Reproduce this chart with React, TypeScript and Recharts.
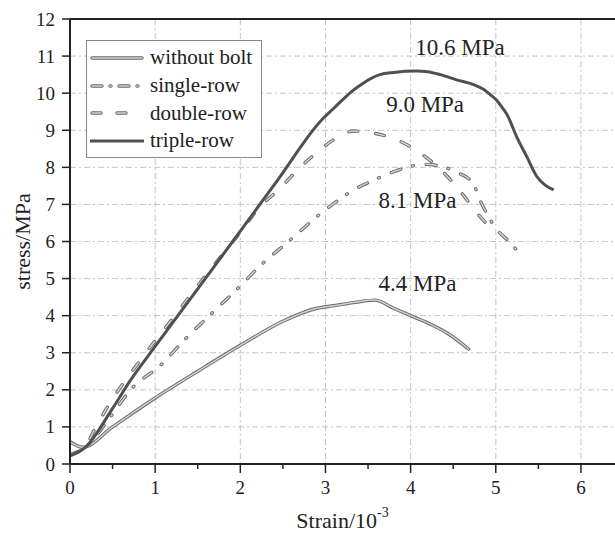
import {
  LineChart,
  Line,
  XAxis,
  YAxis,
  CartesianGrid,
  Legend,
  ReferenceDot,
  ReferenceLine,
  Label,
} from "recharts";

// strain (10^-3) / stress (MPa)
const strainWithoutBolt = [0, 0.15, 0.5, 1.0, 1.5, 2.0, 2.5, 2.9, 3.1, 3.35, 3.58, 3.8, 4.0, 4.25, 4.45, 4.68];
const stressWithoutBolt = [0.6, 0.45, 1.0, 1.78, 2.5, 3.2, 3.85, 4.2, 4.27, 4.36, 4.42, 4.2, 4.0, 3.75, 3.5, 3.1];

const strainSingle = [0, 0.18, 0.49, 0.7, 1.08, 1.37, 1.65, 1.96, 2.25, 2.57, 2.98, 3.31, 3.58, 3.8, 3.97, 4.19, 4.4, 4.56, 4.73, 4.82, 4.9, 5.01, 5.16, 5.29];
const stressSingle = [0.25, 0.45, 1.32, 1.97, 2.7, 3.41, 4.03, 4.71, 5.38, 6.01, 6.82, 7.36, 7.67, 7.88, 8.01, 8.08, 8.0, 7.85, 7.58, 7.09, 6.73, 6.33, 5.99, 5.65];

const strainDouble = [0, 0.18, 0.27, 0.43, 0.82, 1.21, 1.62, 1.95, 2.23, 2.45, 2.7, 2.94, 3.1, 3.2, 3.32, 3.49, 3.65, 3.85, 4.11, 4.37, 4.58, 4.78, 4.97];
const stressDouble = [0.25, 0.45, 0.85, 1.5, 2.78, 3.94, 5.16, 6.1, 6.93, 7.4, 7.99, 8.48, 8.75, 8.88, 8.98, 8.95, 8.88, 8.73, 8.39, 7.9, 7.36, 6.77, 6.28];

const strainTriple = [0, 0.18, 0.5, 0.705, 1.0, 1.5, 2.0, 2.43, 2.96, 3.1, 3.2, 3.3, 3.4, 3.52, 3.64, 3.8, 4.07, 4.2, 4.35, 4.54, 4.74, 4.86, 4.94, 5.01, 5.07, 5.13, 5.25, 5.37, 5.48, 5.58, 5.68];
const stressTriple = [0.22, 0.45, 1.5, 2.24, 3.17, 4.72, 6.28, 7.63, 9.29, 9.6, 9.82, 10.03, 10.2, 10.38, 10.5, 10.56, 10.6, 10.58, 10.5, 10.36, 10.23, 10.1, 9.95, 9.81, 9.63, 9.43, 8.8, 8.26, 7.76, 7.52, 7.39];

const seriesNames = ["without bolt", "single-row", "double-row", "triple-row"];

const peakLabels = ["10.6 MPa", "9.0 MPa", "8.1 MPa", "4.4 MPa"];
const peakLabelStrain = [4.58, 4.17, 4.08, 4.08];
const peakLabelStress = [11.25, 9.71, 7.12, 4.88];

const xTicks = [0, 0.5, 1, 1.5, 2, 2.5, 3, 3.5, 4, 4.5, 5, 5.5, 6];
const yTicks = [0, 0.5, 1, 1.5, 2, 2.5, 3, 3.5, 4, 4.5, 5, 5.5, 6, 6.5, 7, 7.5, 8, 8.5, 9, 9.5, 10, 10.5, 11, 11.5, 12];
const xGrid = [1, 2, 3, 4, 5, 6];
const yGrid = [1, 2, 3, 4, 5, 6, 7, 8, 9, 10, 11, 12];

const toPoints = (xs: number[], ys: number[]) => xs.map((x, i) => ({ x, y: ys[i] }));

const FONT = "'Liberation Serif', 'Times New Roman', serif";
const AXIS = "#222";

const series = [
  { name: seriesNames[0], data: toPoints(strainWithoutBolt, stressWithoutBolt), dash: undefined, outline: true },
  { name: seriesNames[1], data: toPoints(strainSingle, stressSingle), dash: "10 12 1 13", outline: true },
  { name: seriesNames[2], data: toPoints(strainDouble, stressDouble), dash: "9 18", outline: true },
  { name: seriesNames[3], data: toPoints(strainTriple, stressTriple), dash: undefined, outline: false },
];

const legendDash = [undefined, "10 8 1 8", "9 16", undefined];

function YTick(props: any) {
  const { x, y, payload } = props;
  const major = Number.isInteger(payload.value);
  return (
    <g>
      <line x1={x} x2={x - (major ? 8 : 5)} y1={y} y2={y} stroke={AXIS} strokeWidth={1.5} />
      {major && (
        <text x={x - 15} y={y} textAnchor="end" dominantBaseline="central" fontSize={19} fontFamily={FONT} fill={AXIS}>
          {payload.value}
        </text>
      )}
    </g>
  );
}

function XTick(props: any) {
  const { x, y, payload } = props;
  const major = Number.isInteger(payload.value);
  return (
    <g>
      <line x1={x} x2={x} y1={y} y2={y + (major ? 9 : 5)} stroke={AXIS} strokeWidth={1.5} />
      {major && (
        <text x={x} y={y + 23} textAnchor="middle" dominantBaseline="central" fontSize={19} fontFamily={FONT} fill={AXIS}>
          {payload.value}
        </text>
      )}
    </g>
  );
}

function renderLegend() {
  return (
    <div
      style={{
        border: "1px solid #888",
        background: "#fff",
        padding: "3px 0 2px 2px",
        fontFamily: FONT,
        fontSize: 21,
        color: AXIS,
        boxSizing: "border-box",
        width: 176,
      }}
    >
      {series.map((s, i) => (
        <div key={s.name} style={{ display: "flex", alignItems: "center", height: 27.7 }}>
          <svg width={56} height={10} style={{ marginRight: 5 }}>
            {s.outline ? (
              <>
                <line x1={3} x2={53} y1={5} y2={5} stroke="#6a6a6a" strokeWidth={3.4} strokeDasharray={legendDash[i]} strokeLinecap="round" />
                <line x1={3} x2={53} y1={5} y2={5} stroke="#d2d2d2" strokeWidth={1.5} strokeDasharray={legendDash[i]} strokeLinecap="round" />
              </>
            ) : (
              <line x1={1} x2={55} y1={5} y2={5} stroke="#505050" strokeWidth={3} />
            )}
          </svg>
          <span style={{ lineHeight: 1 }}>{s.name}</span>
        </div>
      ))}
    </div>
  );
}

export default function App() {
  return (
    <div>
      <style>{"body{margin:0}"}</style>
      <LineChart width={615} height={533} margin={{ top: 19, right: 0, bottom: 0, left: 0 }}>
        <CartesianGrid
          horizontalValues={yGrid}
          verticalValues={xGrid}
          stroke="#c4c4c4"
          strokeDasharray="6 3 2 3"
        />
        <XAxis
          type="number"
          dataKey="x"
          domain={[0, 6.4]}
          ticks={xTicks}
          allowDataOverflow
          height={69}
          tickSize={0}
          tickMargin={0}
          tick={<XTick />}
          tickLine={false}
          axisLine={{ stroke: AXIS, strokeWidth: 2 }}
        >
          <Label
            content={(p: any) => {
              const vb = p.viewBox;
              return (
                <text x={vb.x + vb.width / 2} y={vb.y + 56} textAnchor="middle" dominantBaseline="central" fontSize={22} fontFamily={FONT} fill={AXIS}>
                  <tspan>Strain/10</tspan>
                  <tspan dy={-8} fontSize={14}>-3</tspan>
                </text>
              );
            }}
          />
        </XAxis>
        <YAxis
          type="number"
          domain={[0, 12]}
          ticks={yTicks}
          width={70}
          tickSize={0}
          tickMargin={0}
          tick={<YTick />}
          tickLine={false}
          axisLine={{ stroke: AXIS, strokeWidth: 2 }}
        >
          <Label
            content={(p: any) => {
              const vb = p.viewBox;
              const cx = vb.x + 22;
              const cy = vb.y + vb.height / 2;
              return (
                <text x={cx} y={cy} transform={`rotate(-90, ${cx}, ${cy})`} textAnchor="middle" dominantBaseline="central" fontSize={22} fontFamily={FONT} fill={AXIS}>
                  stress/MPa
                </text>
              );
            }}
          />
        </YAxis>
        <ReferenceLine y={12} stroke={AXIS} strokeWidth={2} />

        {series.map((s) =>
          s.outline
            ? [
                <Line
                  key={s.name + "-outer"}
                  data={s.data}
                  dataKey="y"
                  type="monotone"
                  stroke="#6a6a6a"
                  strokeWidth={3.4}
                  strokeDasharray={s.dash}
                  strokeLinecap="round"
                  strokeLinejoin="round"
                  dot={false}
                  activeDot={false}
                  isAnimationActive={false}
                  legendType="none"
                />,
                <Line
                  key={s.name + "-inner"}
                  data={s.data}
                  dataKey="y"
                  type="monotone"
                  stroke="#d2d2d2"
                  strokeWidth={1.5}
                  strokeDasharray={s.dash}
                  strokeLinecap="round"
                  strokeLinejoin="round"
                  dot={false}
                  activeDot={false}
                  isAnimationActive={false}
                  legendType="none"
                />,
              ]
            : (
                <Line
                  key={s.name}
                  data={s.data}
                  dataKey="y"
                  type="monotone"
                  stroke="#505050"
                  strokeWidth={3}
                  strokeLinejoin="round"
                  dot={false}
                  activeDot={false}
                  isAnimationActive={false}
                />
              )
        )}

        {peakLabels.map((text, i) => (
          <ReferenceDot
            key={text}
            x={peakLabelStrain[i]}
            y={peakLabelStress[i]}
            r={0}
            ifOverflow="visible"
            label={{ value: text, position: "center", fontSize: 23, fontFamily: FONT, fill: AXIS }}
          />
        ))}

        <Legend
          content={renderLegend}
          layout="vertical"
          align="center"
          verticalAlign="middle"
          wrapperStyle={{ left: 86, top: 40, width: 176 }}
        />
      </LineChart>
    </div>
  );
}
